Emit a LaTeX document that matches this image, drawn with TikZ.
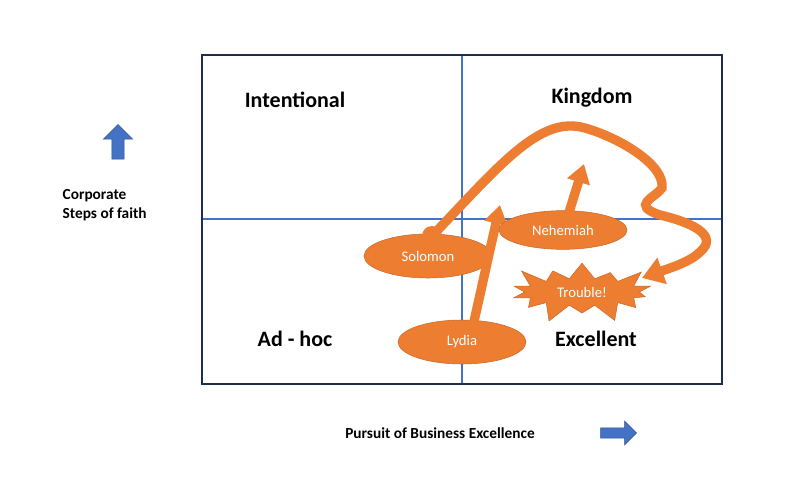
\documentclass[tikz,border=0pt]{standalone}
\usepackage{fontspec}
\setmainfont{Carlito}
\usetikzlibrary{shapes.geometric,shapes.symbols,shapes.arrows,arrows.meta}
\definecolor{navy}{HTML}{1F2D4F}
\definecolor{blu}{HTML}{4472C4}
\definecolor{org}{HTML}{ED7D31}
\begin{document}
\begin{tikzpicture}[x=0.75pt,y=-0.75pt,
  quad/.style={font=\bfseries\fontsize{16.5}{19}\selectfont},
  oval/.style={ellipse,fill=org,draw=org!85!black,text=white,font=\fontsize{11}{13}\selectfont,inner sep=0pt},
  fat/.style={org,line width=7pt,-{Triangle[length=14pt,width=17pt]}},
  ax/.style={font=\bfseries\fontsize{11.5}{14}\selectfont}]
\useasboundingbox (0,0) rectangle (800,478);
\draw[blu,line width=1.2pt] (462,55) -- (462,384) (202,219) -- (722,219);
\draw[navy,line width=1.8pt] (202,55) rectangle (722,384);
\node[quad] (int) at (295,100) {Intentional};
\node[quad] (kin) at (592,98) {Kingdom};
\node[quad] (adh) at (295,339) {Ad - hoc};
\node[quad] (exc) at (596,339) {Excellent};
\node[ax,align=left,anchor=west] (cor) at (58,205) {Corporate\\Steps of faith};
\node[ax] (pur) at (440,433) {Pursuit of Business Excellence};
\node[single arrow,fill=blu,draw=blu!70!black,minimum width=22pt,single arrow head extend=3pt,minimum height=26pt,rotate=90,inner sep=2pt] (ua) at (118,145) {};
\node[single arrow,fill=blu,draw=blu!70!black,minimum width=18pt,single arrow head extend=3pt,minimum height=27pt,inner sep=2pt] (ra) at (616,433) {};
\node[oval,minimum width=96pt,minimum height=33pt] (sol) at (428,256) {Solomon};
\coordinate (cs) at (432,236);
\coordinate (ce) at (642,278);
\draw[org,line width=7pt,-{Triangle[length=16pt,width=20pt]}] (cs) .. controls (500,165) and (540,115) .. (585,128)
  .. controls (620,138) and (665,165) .. (662,188)
  .. controls (655,198) and (630,205) .. (660,215)
  .. controls (690,222) and (720,235) .. (700,252)
  .. controls (690,262) and (670,268) .. (ce);
\fill[org] (cs) circle (10);
\node[oval,minimum width=96pt,minimum height=33pt] (lyd) at (462,342) {Lydia};
\coordinate (lt) at (500,205);
\draw[fat] (473,326) -- (lt);
\node[oval,minimum width=96pt,minimum height=29pt] (neh) at (563,230) {Nehemiah};
\coordinate (nt) at (584,164);
\draw[fat] (neh.north) ++(6,2) -- (nt);
\node[starburst,fill=org,draw=org!85!black,text=white,font=\fontsize{11}{13}\selectfont,minimum width=118pt,minimum height=52pt,starburst points=14,starburst point height=16pt] (tro) at (582,292) {Trouble!};
\end{tikzpicture}
\end{document}
